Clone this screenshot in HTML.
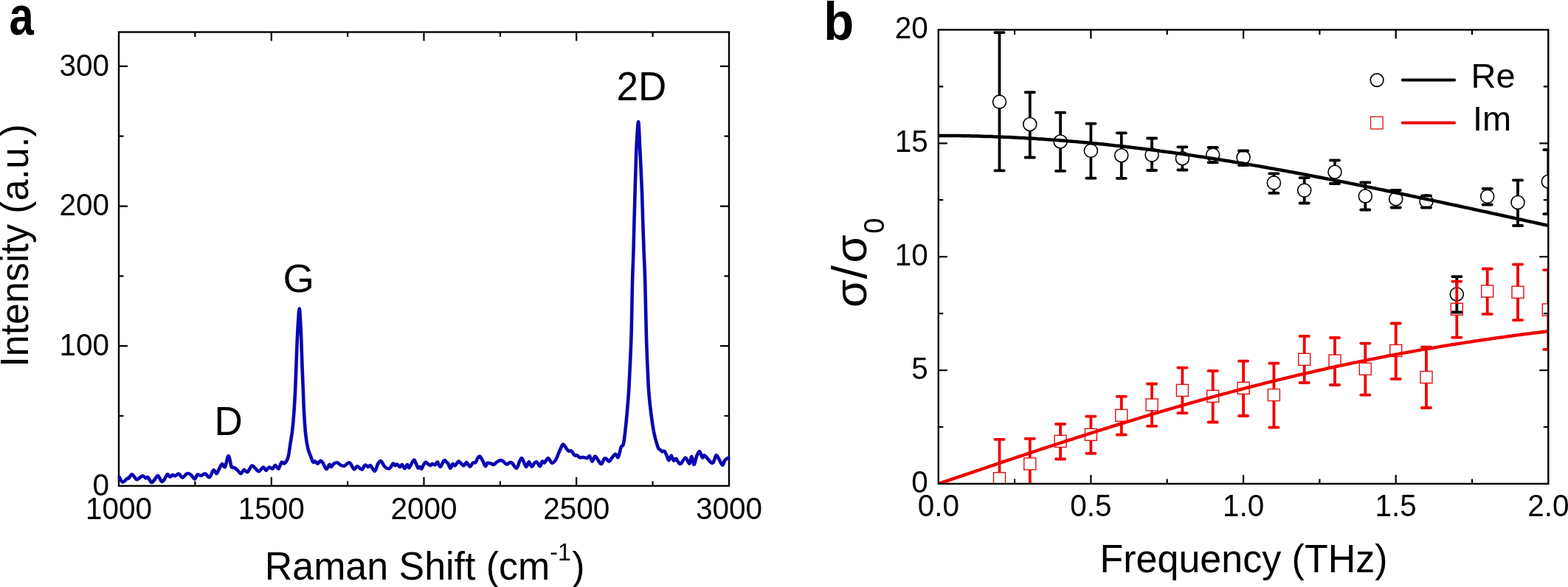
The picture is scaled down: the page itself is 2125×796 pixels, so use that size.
<!DOCTYPE html><html><head><meta charset="utf-8"><style>html,body{margin:0;padding:0;background:#fff;}svg{display:block;}text{font-family:"Liberation Sans",Arial,sans-serif;}</style></head><body>
<svg width="2125" height="796" viewBox="0 0 2125 796">
<rect width="2125" height="796" fill="#fff"/>
<rect x="161.0" y="43.5" width="827.0" height="615.4" fill="none" stroke="#000" stroke-width="2.4"/>
<path d="M264.4,658.9v-6.5M264.4,43.5v6.5M367.8,658.9v-12.0M367.8,43.5v12.0M471.1,658.9v-6.5M471.1,43.5v6.5M574.5,658.9v-12.0M574.5,43.5v12.0M677.9,658.9v-6.5M677.9,43.5v6.5M781.2,658.9v-12.0M781.2,43.5v12.0M884.6,658.9v-6.5M884.6,43.5v6.5M161.0,564.0h6.5M988.0,564.0h-6.5M161.0,469.2h12.0M988.0,469.2h-12.0M161.0,374.4h6.5M988.0,374.4h-6.5M161.0,279.6h12.0M988.0,279.6h-12.0M161.0,184.7h6.5M988.0,184.7h-6.5M161.0,89.9h12.0M988.0,89.9h-12.0" stroke="#000" stroke-width="2.2" fill="none"/>
<path d="M161.8,647.2 C162.5,648.3 164.4,653.5 166.2,653.8 C167.9,654.1 170.9,649.8 172.3,648.9 C173.7,648.0 173.4,649.5 174.5,648.5 C175.6,647.5 177.2,643.0 178.9,643.2 C180.6,643.4 183.1,648.8 184.6,649.8 C186.1,650.8 186.6,649.7 188.1,648.9 C189.6,648.1 191.8,645.3 193.4,645.2 C195.0,645.1 196.6,648.2 197.8,648.5 C199.0,648.8 199.2,646.2 200.5,647.2 C201.8,648.2 203.8,653.6 205.3,654.2 C206.8,654.8 207.8,652.2 209.3,650.7 C210.8,649.2 212.5,644.6 214.1,645.0 C215.7,645.4 217.5,651.9 218.9,652.9 C220.3,653.9 221.1,652.3 222.4,650.7 C223.7,649.1 225.5,643.9 226.8,643.2 C228.1,642.5 229.2,646.6 230.4,646.7 C231.6,646.9 232.7,644.3 233.9,644.1 C235.1,643.9 236.0,645.6 237.4,645.4 C238.8,645.1 240.5,642.2 242.2,642.6 C243.9,643.0 245.7,647.7 247.5,647.6 C249.3,647.5 251.4,643.0 253.2,642.3 C255.0,641.6 256.7,642.4 258.5,643.6 C260.3,644.8 262.3,649.4 263.8,649.4 C265.3,649.4 266.2,644.3 267.7,643.6 C269.2,642.9 270.9,645.2 272.6,645.0 C274.3,644.8 276.0,641.9 277.9,642.3 C279.8,642.7 282.1,648.0 284.0,647.2 C285.9,646.4 287.7,638.3 289.3,637.5 C290.9,636.7 292.2,642.6 293.5,642.3 C294.8,642.0 295.8,637.9 297.0,635.7 C298.2,633.5 299.7,629.5 301.0,629.1 C302.3,628.7 303.7,634.8 305.0,633.1 C306.3,631.4 307.9,620.9 308.9,619.0 C309.9,617.1 310.3,619.4 311.1,621.7 C311.9,624.1 312.7,631.1 313.7,633.1 C314.7,635.1 315.9,633.2 317.3,634.0 C318.7,634.8 320.6,636.5 322.1,637.9 C323.6,639.3 325.1,642.4 326.5,642.3 C327.9,642.2 329.0,637.5 330.5,637.1 C332.0,636.7 333.6,641.0 335.3,640.1 C337.1,639.2 339.3,632.8 341.0,631.8 C342.7,630.8 343.8,633.1 345.4,634.4 C347.0,635.6 348.8,639.4 350.7,639.3 C352.6,639.1 355.2,633.7 356.8,633.5 C358.4,633.3 359.1,637.9 360.4,637.9 C361.7,637.9 363.3,633.9 364.8,633.5 C366.3,633.1 367.8,636.1 369.2,635.7 C370.6,635.3 371.7,630.9 373.1,630.9 C374.5,630.9 376.1,636.4 377.5,635.7 C378.9,635.0 380.2,628.1 381.5,626.9 C382.8,625.7 383.9,629.4 385.4,628.3 C386.9,627.2 389.0,624.8 390.3,620.5 C391.6,616.2 392.3,608.9 393.3,602.6 C394.3,596.4 395.5,590.0 396.3,583.0 C397.1,576.0 397.7,569.1 398.3,560.3 C398.9,551.5 399.6,540.8 400.1,530.2 C400.6,519.7 400.9,508.6 401.4,497.0 C401.8,485.4 402.3,470.6 402.8,460.3 C403.3,450.0 403.7,442.0 404.2,435.0 C404.7,428.0 405.2,418.5 405.7,418.5 C406.2,418.5 406.7,428.0 407.1,435.0 C407.5,442.0 407.9,450.0 408.3,460.3 C408.7,470.6 409.1,485.4 409.5,497.0 C409.9,508.6 410.5,519.7 410.9,530.2 C411.3,540.8 411.5,550.2 412.1,560.3 C412.7,570.3 413.5,582.5 414.4,590.5 C415.3,598.5 416.3,603.9 417.4,608.6 C418.5,613.4 420.1,616.0 421.2,619.0 C422.3,622.0 423.1,625.4 424.1,626.5 C425.1,627.6 426.1,625.2 427.2,625.6 C428.3,626.0 429.4,628.9 430.6,628.7 C431.8,628.6 433.3,624.9 434.5,624.7 C435.7,624.6 436.3,625.9 437.6,627.8 C438.9,629.7 440.9,635.8 442.4,636.2 C443.9,636.6 445.3,630.5 446.4,630.0 C447.5,629.5 448.0,633.3 449.0,633.1 C450.0,632.9 451.1,629.7 452.5,628.7 C453.9,627.8 455.9,627.1 457.4,627.4 C458.9,627.7 459.8,629.8 461.3,630.5 C462.8,631.2 464.6,632.3 466.6,631.8 C468.7,631.3 471.4,626.7 473.6,627.4 C475.8,628.1 478.0,635.4 479.8,636.2 C481.6,637.0 482.4,632.1 484.2,632.2 C486.0,632.3 488.6,636.9 490.4,636.6 C492.2,636.3 493.4,631.1 494.8,630.5 C496.2,629.9 497.5,633.0 498.7,633.1 C499.9,633.2 500.6,630.3 502.2,631.3 C503.8,632.2 506.3,639.2 508.0,638.8 C509.7,638.4 510.9,631.0 512.3,628.7 C513.7,626.4 514.8,624.5 516.3,625.2 C517.8,625.9 519.7,631.4 521.6,633.1 C523.5,634.8 525.9,636.0 527.7,635.3 C529.5,634.6 531.4,629.4 532.6,628.7 C533.9,628.0 534.2,631.1 535.2,631.3 C536.2,631.4 537.2,629.3 538.3,629.6 C539.4,629.9 540.7,633.0 541.8,633.1 C542.9,633.2 543.8,629.6 544.9,630.0 C546.0,630.4 547.2,635.3 548.4,635.3 C549.6,635.3 550.9,630.2 551.9,630.0 C552.9,629.8 553.1,635.0 554.6,634.0 C556.1,633.0 559.2,624.8 560.7,623.9 C562.2,623.0 562.8,627.0 563.8,628.7 C564.8,630.5 565.6,633.7 566.4,634.4 C567.2,635.1 567.8,632.9 568.6,633.1 C569.4,633.3 570.5,636.0 571.3,635.7 C572.1,635.4 572.6,632.8 573.5,631.3 C574.4,629.8 575.4,627.3 576.5,626.9 C577.6,626.5 579.0,628.4 580.1,629.1 C581.2,629.8 582.2,631.3 583.1,631.3 C584.0,631.3 584.7,629.2 585.8,629.1 C586.9,629.0 588.5,630.9 589.7,630.5 C590.9,630.1 591.6,626.1 592.8,626.5 C594.0,626.9 595.3,633.4 596.8,633.1 C598.3,632.8 600.3,625.9 601.6,624.7 C602.9,623.5 603.7,625.3 604.7,626.1 C605.7,626.9 606.8,628.1 607.8,629.6 C608.8,631.1 609.4,635.0 610.4,634.9 C611.4,634.8 612.5,629.7 613.5,629.1 C614.5,628.5 615.3,631.9 616.6,631.3 C617.9,630.7 619.9,626.0 621.4,625.6 C622.9,625.2 624.1,628.2 625.4,629.1 C626.6,630.0 627.7,631.7 628.9,631.3 C630.1,630.9 631.1,626.7 632.4,626.9 C633.7,627.1 635.4,632.6 636.8,632.7 C638.2,632.9 639.5,628.8 640.8,627.8 C642.1,626.8 643.6,628.0 644.7,626.9 C645.8,625.8 646.3,622.5 647.3,621.2 C648.2,619.9 649.2,618.3 650.4,619.0 C651.6,619.7 653.1,623.0 654.4,625.2 C655.6,627.4 656.9,631.8 657.9,632.2 C658.9,632.6 659.2,628.4 660.5,627.8 C661.8,627.2 664.3,628.3 665.8,628.7 C667.3,629.1 668.1,630.3 669.3,630.0 C670.5,629.7 671.5,627.9 672.9,626.9 C674.3,625.9 676.2,624.6 677.7,624.3 C679.2,624.0 680.1,624.3 681.6,625.2 C683.1,626.1 685.0,629.2 686.5,629.6 C688.0,630.0 689.1,627.7 690.4,627.4 C691.6,627.1 692.4,626.6 694.0,627.9 C695.6,629.2 698.4,635.4 700.1,635.0 C701.8,634.6 702.9,627.9 704.1,625.7 C705.4,623.5 706.1,620.6 707.6,621.8 C709.1,623.0 711.4,632.1 712.9,632.8 C714.4,633.5 715.5,626.2 716.8,626.2 C718.1,626.2 719.5,632.6 720.8,632.8 C722.1,633.0 723.5,628.5 724.7,627.5 C725.9,626.5 726.6,625.8 727.8,626.6 C729.0,627.4 730.6,632.4 731.8,632.3 C733.0,632.1 733.9,626.5 734.9,625.7 C735.9,624.9 736.6,628.2 737.9,627.5 C739.2,626.8 741.1,621.2 742.8,621.3 C744.5,621.4 746.3,627.4 748.0,627.9 C749.7,628.4 751.4,626.1 752.9,624.0 C754.4,621.9 755.3,618.7 756.8,615.2 C758.3,611.8 760.8,605.1 762.1,603.3 C763.4,601.5 763.5,602.9 764.8,604.2 C766.1,605.5 768.4,610.0 770.0,611.2 C771.6,612.5 772.9,610.7 774.4,611.7 C775.9,612.7 777.5,616.5 778.8,617.4 C780.0,618.3 780.7,616.9 781.9,617.4 C783.1,617.9 784.5,620.1 785.9,620.5 C787.3,620.9 788.7,619.9 790.3,620.0 C791.9,620.1 794.0,621.6 795.5,621.3 C797.0,621.0 797.9,617.6 799.1,618.3 C800.3,619.0 801.4,625.6 802.6,625.7 C803.8,625.8 805.2,619.0 806.5,618.7 C807.8,618.4 809.1,622.2 810.5,624.0 C811.9,625.8 813.5,629.6 814.9,629.3 C816.3,629.0 817.6,623.4 818.8,622.2 C820.0,621.0 820.8,621.6 821.9,622.2 C823.0,622.8 824.0,625.9 825.2,625.8 C826.4,625.6 827.5,623.0 829.0,621.3 C830.5,619.6 832.6,616.0 834.0,615.8 C835.4,615.6 836.6,620.9 837.6,620.3 C838.6,619.7 839.4,614.8 840.1,612.3 C840.8,609.8 841.2,607.1 842.0,605.5 C842.8,603.9 843.9,605.6 844.8,602.5 C845.6,599.4 846.3,593.8 847.1,586.8 C847.9,579.8 848.9,570.1 849.7,560.7 C850.5,551.3 851.4,542.2 852.1,530.5 C852.8,518.8 853.5,503.6 854.1,490.2 C854.7,476.8 855.2,468.3 855.7,450.0 C856.2,431.7 856.6,398.7 857.1,380.4 C857.6,362.1 858.1,353.6 858.5,340.2 C858.9,326.8 859.1,313.4 859.5,300.0 C859.9,286.6 860.2,272.6 860.6,260.0 C861.0,247.3 861.4,234.7 861.7,224.1 C862.1,213.5 862.1,206.3 862.7,196.5 C863.3,186.7 864.4,165.0 865.1,165.0 C865.8,165.0 866.5,186.7 867.0,196.5 C867.5,206.3 867.9,213.5 868.4,224.1 C868.9,234.7 869.5,247.3 870.0,260.0 C870.5,272.6 870.8,286.6 871.2,300.0 C871.6,313.4 872.1,326.8 872.6,340.2 C873.1,353.6 873.7,362.1 874.2,380.4 C874.7,398.7 875.3,431.7 875.8,450.0 C876.3,468.3 876.6,476.8 877.2,490.2 C877.8,503.6 878.4,518.8 879.2,530.5 C880.1,542.2 881.1,551.3 882.3,560.7 C883.5,570.1 885.0,580.1 886.3,586.8 C887.6,593.5 888.9,597.3 889.9,600.9 C890.9,604.5 891.5,606.7 892.3,608.2 C893.1,609.7 893.8,609.1 894.6,609.8 C895.5,610.5 896.4,612.0 897.4,612.3 C898.4,612.6 899.4,611.0 900.4,611.8 C901.4,612.6 902.4,615.2 903.4,617.3 C904.4,619.4 905.4,624.2 906.4,624.3 C907.4,624.4 908.5,617.8 909.6,617.8 C910.7,617.8 911.9,623.8 913.0,624.5 C914.1,625.2 915.1,621.7 916.1,622.0 C917.1,622.3 917.9,625.1 919.0,626.3 C920.1,627.5 920.8,629.9 922.5,629.0 C924.2,628.1 927.0,620.8 929.0,620.8 C931.0,620.8 932.9,629.0 934.3,628.7 C935.7,628.4 936.4,618.8 937.4,619.0 C938.4,619.2 939.4,630.0 940.5,630.0 C941.6,630.0 942.8,622.0 944.0,619.0 C945.2,616.0 946.6,611.8 947.9,612.0 C949.2,612.2 950.7,619.3 951.9,620.3 C953.1,621.2 953.1,616.6 955.0,617.7 C956.9,618.8 961.3,625.4 963.3,626.9 C965.3,628.4 965.5,628.5 966.8,626.9 C968.0,625.3 969.4,617.7 970.8,617.3 C972.2,616.9 973.8,622.0 975.2,624.3 C976.6,626.6 978.0,630.9 979.2,630.9 C980.4,630.9 980.9,626.0 982.2,624.3 C983.5,622.6 986.3,621.4 987.1,620.8" stroke="#0a06b0" stroke-width="4.6" fill="none" stroke-linejoin="round" stroke-linecap="round"/>
<text transform="translate(161.0,703.5) scale(1.000,1.045)" font-size="40.5" text-anchor="middle">1000</text>
<text transform="translate(367.8,703.5) scale(1.000,1.045)" font-size="40.5" text-anchor="middle">1500</text>
<text transform="translate(574.5,703.5) scale(1.000,1.045)" font-size="40.5" text-anchor="middle">2000</text>
<text transform="translate(781.2,703.5) scale(1.000,1.045)" font-size="40.5" text-anchor="middle">2500</text>
<text transform="translate(988.0,703.5) scale(1.000,1.045)" font-size="40.5" text-anchor="middle">3000</text>
<text transform="translate(148.0,671.6) scale(1.000,1.045)" font-size="40.5" text-anchor="end">0</text>
<text transform="translate(148.0,482.0) scale(1.000,1.045)" font-size="40.5" text-anchor="end">100</text>
<text transform="translate(148.0,292.4) scale(1.000,1.045)" font-size="40.5" text-anchor="end">200</text>
<text transform="translate(148.0,102.7) scale(1.000,1.045)" font-size="40.5" text-anchor="end">300</text>
<text transform="translate(358.8,785.5) scale(1.000,1.045)" font-size="51.9">Raman Shift (cm<tspan dy="-24.2" font-size="32">-1</tspan><tspan dy="24.2" dx="1.5">)</tspan></text>
<text transform="translate(37.7,333) rotate(-90) scale(1.0,1.04)" font-size="52" text-anchor="middle">Intensity (a.u.)</text>
<text transform="translate(290.5,590.0) scale(1.000,1.030)" font-size="53.0">D</text>
<text transform="translate(383.5,395.5) scale(1.030,1.010)" font-size="53.0">G</text>
<text transform="translate(835.5,136.0) scale(1.000,1.040)" font-size="53.0">2D</text>
<text transform="translate(12.5,47.0) scale(0.820,1.020)" font-size="73.0" font-weight="bold">a</text>
<defs><clipPath id="cb"><rect x="1271.8" y="40.4" width="826.5" height="615.6"/></clipPath></defs>
<path d="M1375.1,656.0v-6.5M1375.1,40.4v6.5M1478.4,656.0v-12.0M1478.4,40.4v12.0M1581.7,656.0v-6.5M1581.7,40.4v6.5M1685.1,656.0v-12.0M1685.1,40.4v12.0M1788.4,656.0v-6.5M1788.4,40.4v6.5M1891.7,656.0v-12.0M1891.7,40.4v12.0M1995.0,656.0v-6.5M1995.0,40.4v6.5M1271.8,579.0h6.5M2098.3,579.0h-6.5M1271.8,502.1h12.0M2098.3,502.1h-12.0M1271.8,425.1h6.5M2098.3,425.1h-6.5M1271.8,348.2h12.0M2098.3,348.2h-12.0M1271.8,271.2h6.5M2098.3,271.2h-6.5M1271.8,194.3h12.0M2098.3,194.3h-12.0M1271.8,117.4h6.5M2098.3,117.4h-6.5" stroke="#000" stroke-width="2.2" fill="none"/>
<g clip-path="url(#cb)">
<path d="M1354.5,44.1V129.1M1354.5,147.1V231.4M1395.8,125.1V159.5M1395.8,177.5V213.5M1437.1,152.7V183.0M1437.1,201.0V231.8M1478.4,167.6V195.4M1478.4,213.4V241.7M1519.8,180.3V201.8M1519.8,219.8V241.8M1561.1,187.5V201.1M1561.1,219.1V231.0M1602.4,199.3V205.7M1602.4,223.7V230.5M1643.7,200.0V201.1M1643.7,219.1V220.3M1685.1,222.5V224.2M1726.4,235.4V238.9M1726.4,256.9V261.9M1767.7,241.1V249.1M1767.7,267.1V275.5M1809.0,217.3V224.2M1809.0,242.2V249.0M1850.3,247.4V257.0M1850.3,275.0V284.5M1891.7,258.0V260.8M1891.7,278.8V281.5M1974.3,375.1V390.0M1974.3,408.0V423.5M2015.7,255.8V257.4M2015.7,275.4V277.5M2057.0,244.3V265.5M2057.0,283.5V306.0M2098.3,203.1V237.3M2098.3,255.3V290.2" stroke="#000" stroke-width="3.8" fill="none"/><path d="M1348.4,44.1h12.2M1348.4,231.4h12.2M1389.7,125.1h12.2M1389.7,213.5h12.2M1431.0,152.7h12.2M1431.0,231.8h12.2M1472.3,167.6h12.2M1472.3,241.7h12.2M1513.7,180.3h12.2M1513.7,241.8h12.2M1555.0,187.5h12.2M1555.0,231.0h12.2M1596.3,199.3h12.2M1596.3,230.5h12.2M1637.6,200.0h12.2M1637.6,220.3h12.2M1679.0,204.5h12.2M1679.0,224.2h12.2M1720.3,235.4h12.2M1720.3,261.9h12.2M1761.6,241.1h12.2M1761.6,275.5h12.2M1802.9,217.3h12.2M1802.9,249.0h12.2M1844.2,247.4h12.2M1844.2,284.5h12.2M1885.6,258.0h12.2M1885.6,281.5h12.2M1926.9,265.4h12.2M1926.9,281.5h12.2M1968.2,375.1h12.2M1968.2,423.5h12.2M2009.6,255.8h12.2M2009.6,277.5h12.2M2050.9,244.3h12.2M2050.9,306.0h12.2M2092.2,203.1h12.2M2092.2,290.2h12.2" stroke="#000" stroke-width="3.8" stroke-linecap="round" fill="none"/>
<circle cx="1354.5" cy="138.1" r="9.0" fill="none" stroke="#000" stroke-width="1.6"/><circle cx="1395.8" cy="168.5" r="9.0" fill="none" stroke="#000" stroke-width="1.6"/><circle cx="1437.1" cy="192.0" r="9.0" fill="none" stroke="#000" stroke-width="1.6"/><circle cx="1478.4" cy="204.4" r="9.0" fill="none" stroke="#000" stroke-width="1.6"/><circle cx="1519.8" cy="210.8" r="9.0" fill="none" stroke="#000" stroke-width="1.6"/><circle cx="1561.1" cy="210.1" r="9.0" fill="none" stroke="#000" stroke-width="1.6"/><circle cx="1602.4" cy="214.7" r="9.0" fill="none" stroke="#000" stroke-width="1.6"/><circle cx="1643.7" cy="210.1" r="9.0" fill="none" stroke="#000" stroke-width="1.6"/><circle cx="1685.1" cy="213.5" r="9.0" fill="none" stroke="#000" stroke-width="1.6"/><circle cx="1726.4" cy="247.9" r="9.0" fill="none" stroke="#000" stroke-width="1.6"/><circle cx="1767.7" cy="258.1" r="9.0" fill="none" stroke="#000" stroke-width="1.6"/><circle cx="1809.0" cy="233.2" r="9.0" fill="none" stroke="#000" stroke-width="1.6"/><circle cx="1850.3" cy="266.0" r="9.0" fill="none" stroke="#000" stroke-width="1.6"/><circle cx="1891.7" cy="269.8" r="9.0" fill="none" stroke="#000" stroke-width="1.6"/><circle cx="1933.0" cy="272.9" r="9.0" fill="none" stroke="#000" stroke-width="1.6"/><circle cx="1974.3" cy="399.0" r="9.0" fill="none" stroke="#000" stroke-width="1.6"/><circle cx="2015.7" cy="266.4" r="9.0" fill="none" stroke="#000" stroke-width="1.6"/><circle cx="2057.0" cy="274.5" r="9.0" fill="none" stroke="#000" stroke-width="1.6"/><circle cx="2098.3" cy="246.3" r="9.0" fill="none" stroke="#000" stroke-width="1.6"/>
<path d="M1271.8,183.9 L1275.9,183.9 L1280.1,183.9 L1284.2,184.0 L1288.3,184.0 L1292.5,184.0 L1296.6,184.1 L1300.7,184.1 L1304.9,184.2 L1309.0,184.3 L1313.1,184.3 L1317.3,184.4 L1321.4,184.5 L1325.5,184.6 L1329.7,184.7 L1333.8,184.9 L1337.9,185.0 L1342.1,185.1 L1346.2,185.3 L1350.3,185.4 L1354.5,185.6 L1358.6,185.7 L1362.7,185.9 L1366.8,186.1 L1371.0,186.3 L1375.1,186.5 L1379.2,186.7 L1383.4,186.9 L1387.5,187.1 L1391.6,187.4 L1395.8,187.6 L1399.9,187.8 L1404.0,188.1 L1408.2,188.4 L1412.3,188.6 L1416.4,188.9 L1420.6,189.2 L1424.7,189.5 L1428.8,189.8 L1433.0,190.1 L1437.1,190.4 L1441.2,190.7 L1445.4,191.1 L1449.5,191.4 L1453.6,191.8 L1457.8,192.1 L1461.9,192.5 L1466.0,192.8 L1470.2,193.2 L1474.3,193.6 L1478.4,194.0 L1482.6,194.4 L1486.7,194.8 L1490.8,195.2 L1495.0,195.6 L1499.1,196.0 L1503.2,196.5 L1507.4,196.9 L1511.5,197.4 L1515.6,197.8 L1519.8,198.3 L1523.9,198.7 L1528.0,199.2 L1532.1,199.7 L1536.3,200.2 L1540.4,200.7 L1544.5,201.2 L1548.7,201.7 L1552.8,202.2 L1556.9,202.7 L1561.1,203.2 L1565.2,203.8 L1569.3,204.3 L1573.5,204.9 L1577.6,205.4 L1581.7,206.0 L1585.9,206.5 L1590.0,207.1 L1594.1,207.7 L1598.3,208.3 L1602.4,208.8 L1606.5,209.4 L1610.7,210.0 L1614.8,210.6 L1618.9,211.3 L1623.1,211.9 L1627.2,212.5 L1631.3,213.1 L1635.5,213.8 L1639.6,214.4 L1643.7,215.0 L1647.9,215.7 L1652.0,216.3 L1656.1,217.0 L1660.3,217.7 L1664.4,218.3 L1668.5,219.0 L1672.7,219.7 L1676.8,220.4 L1680.9,221.1 L1685.1,221.7 L1689.2,222.4 L1693.3,223.1 L1697.4,223.9 L1701.6,224.6 L1705.7,225.3 L1709.8,226.0 L1714.0,226.7 L1718.1,227.5 L1722.2,228.2 L1726.4,228.9 L1730.5,229.7 L1734.6,230.4 L1738.8,231.2 L1742.9,231.9 L1747.0,232.7 L1751.2,233.4 L1755.3,234.2 L1759.4,235.0 L1763.6,235.8 L1767.7,236.5 L1771.8,237.3 L1776.0,238.1 L1780.1,238.9 L1784.2,239.7 L1788.4,240.5 L1792.5,241.3 L1796.6,242.1 L1800.8,242.9 L1804.9,243.7 L1809.0,244.5 L1813.2,245.3 L1817.3,246.1 L1821.4,246.9 L1825.6,247.8 L1829.7,248.6 L1833.8,249.4 L1838.0,250.2 L1842.1,251.1 L1846.2,251.9 L1850.3,252.8 L1854.5,253.6 L1858.6,254.4 L1862.7,255.3 L1866.9,256.1 L1871.0,257.0 L1875.1,257.8 L1879.3,258.7 L1883.4,259.5 L1887.5,260.4 L1891.7,261.3 L1895.8,262.1 L1899.9,263.0 L1904.1,263.9 L1908.2,264.7 L1912.3,265.6 L1916.5,266.5 L1920.6,267.4 L1924.7,268.2 L1928.9,269.1 L1933.0,270.0 L1937.1,270.9 L1941.3,271.7 L1945.4,272.6 L1949.5,273.5 L1953.7,274.4 L1957.8,275.3 L1961.9,276.2 L1966.1,277.1 L1970.2,278.0 L1974.3,278.8 L1978.5,279.7 L1982.6,280.6 L1986.7,281.5 L1990.9,282.4 L1995.0,283.3 L1999.1,284.2 L2003.3,285.1 L2007.4,286.0 L2011.5,286.9 L2015.7,287.8 L2019.8,288.7 L2023.9,289.6 L2028.0,290.5 L2032.2,291.4 L2036.3,292.3 L2040.4,293.2 L2044.6,294.1 L2048.7,295.0 L2052.8,295.9 L2057.0,296.8 L2061.1,297.7 L2065.2,298.6 L2069.4,299.6 L2073.5,300.5 L2077.6,301.4 L2081.8,302.3 L2085.9,303.2 L2090.0,304.1 L2094.2,305.0 L2098.3,305.9" stroke="#000" stroke-width="4.5" fill="none"/>
<path d="M1354.5,595.8V640.8M1354.5,656.8V701.8M1395.8,594.9V621.0M1395.8,637.0V663.1M1437.1,575.0V590.4M1437.1,606.4V622.5M1478.4,564.7V581.3M1478.4,597.3V614.8M1519.8,537.7V555.3M1519.8,571.3V589.5M1561.1,520.5V540.9M1561.1,556.9V577.8M1602.4,498.6V521.3M1602.4,537.3V560.2M1643.7,502.9V529.3M1643.7,545.3V572.5M1685.1,489.6V518.3M1685.1,534.3V564.0M1726.4,492.7V527.6M1726.4,543.6V579.6M1767.7,455.9V479.3M1767.7,495.3V519.0M1809.0,458.0V481.1M1809.0,497.1V522.0M1850.3,465.6V492.3M1850.3,508.3V535.6M1891.7,438.5V467.5M1891.7,483.5V513.8M1933.0,470.7V503.5M1933.0,519.5V553.0M1974.3,381.6V411.3M1974.3,427.3V457.7M2015.7,364.5V386.9M2015.7,402.9V425.9M2057.0,358.6V388.2M2057.0,404.2V434.1M2098.3,366.1V412.0M2098.3,428.0V473.9" stroke="#f00000" stroke-width="3.8" fill="none"/><path d="M1348.4,595.8h12.2M1348.4,701.8h12.2M1389.7,594.9h12.2M1389.7,663.1h12.2M1431.0,575.0h12.2M1431.0,622.5h12.2M1472.3,564.7h12.2M1472.3,614.8h12.2M1513.7,537.7h12.2M1513.7,589.5h12.2M1555.0,520.5h12.2M1555.0,577.8h12.2M1596.3,498.6h12.2M1596.3,560.2h12.2M1637.6,502.9h12.2M1637.6,572.5h12.2M1679.0,489.6h12.2M1679.0,564.0h12.2M1720.3,492.7h12.2M1720.3,579.6h12.2M1761.6,455.9h12.2M1761.6,519.0h12.2M1802.9,458.0h12.2M1802.9,522.0h12.2M1844.2,465.6h12.2M1844.2,535.6h12.2M1885.6,438.5h12.2M1885.6,513.8h12.2M1926.9,470.7h12.2M1926.9,553.0h12.2M1968.2,381.6h12.2M1968.2,457.7h12.2M2009.6,364.5h12.2M2009.6,425.9h12.2M2050.9,358.6h12.2M2050.9,434.1h12.2M2092.2,366.1h12.2M2092.2,473.9h12.2" stroke="#f00000" stroke-width="3.8" stroke-linecap="round" fill="none"/>
<rect x="1346.5" y="640.8" width="16.0" height="16.0" fill="none" stroke="#e01010" stroke-width="1.4"/><rect x="1387.8" y="621.0" width="16.0" height="16.0" fill="none" stroke="#e01010" stroke-width="1.4"/><rect x="1429.1" y="590.4" width="16.0" height="16.0" fill="none" stroke="#e01010" stroke-width="1.4"/><rect x="1470.4" y="581.3" width="16.0" height="16.0" fill="none" stroke="#e01010" stroke-width="1.4"/><rect x="1511.8" y="555.3" width="16.0" height="16.0" fill="none" stroke="#e01010" stroke-width="1.4"/><rect x="1553.1" y="540.9" width="16.0" height="16.0" fill="none" stroke="#e01010" stroke-width="1.4"/><rect x="1594.4" y="521.3" width="16.0" height="16.0" fill="none" stroke="#e01010" stroke-width="1.4"/><rect x="1635.7" y="529.3" width="16.0" height="16.0" fill="none" stroke="#e01010" stroke-width="1.4"/><rect x="1677.1" y="518.3" width="16.0" height="16.0" fill="none" stroke="#e01010" stroke-width="1.4"/><rect x="1718.4" y="527.6" width="16.0" height="16.0" fill="none" stroke="#e01010" stroke-width="1.4"/><rect x="1759.7" y="479.3" width="16.0" height="16.0" fill="none" stroke="#e01010" stroke-width="1.4"/><rect x="1801.0" y="481.1" width="16.0" height="16.0" fill="none" stroke="#e01010" stroke-width="1.4"/><rect x="1842.3" y="492.3" width="16.0" height="16.0" fill="none" stroke="#e01010" stroke-width="1.4"/><rect x="1883.7" y="467.5" width="16.0" height="16.0" fill="none" stroke="#e01010" stroke-width="1.4"/><rect x="1925.0" y="503.5" width="16.0" height="16.0" fill="none" stroke="#e01010" stroke-width="1.4"/><rect x="1966.3" y="411.3" width="16.0" height="16.0" fill="none" stroke="#e01010" stroke-width="1.4"/><rect x="2007.7" y="386.9" width="16.0" height="16.0" fill="none" stroke="#e01010" stroke-width="1.4"/><rect x="2049.0" y="388.2" width="16.0" height="16.0" fill="none" stroke="#e01010" stroke-width="1.4"/><rect x="2090.3" y="412.0" width="16.0" height="16.0" fill="none" stroke="#e01010" stroke-width="1.4"/>
<path d="M1271.8,656.0 L1275.9,654.6 L1280.1,653.2 L1284.2,651.8 L1288.3,650.4 L1292.5,649.0 L1296.6,647.6 L1300.7,646.2 L1304.9,644.8 L1309.0,643.4 L1313.1,642.0 L1317.3,640.6 L1321.4,639.2 L1325.5,637.8 L1329.7,636.4 L1333.8,635.0 L1337.9,633.6 L1342.1,632.2 L1346.2,630.8 L1350.3,629.4 L1354.5,628.0 L1358.6,626.6 L1362.7,625.2 L1366.8,623.9 L1371.0,622.5 L1375.1,621.1 L1379.2,619.7 L1383.4,618.3 L1387.5,617.0 L1391.6,615.6 L1395.8,614.2 L1399.9,612.8 L1404.0,611.5 L1408.2,610.1 L1412.3,608.7 L1416.4,607.4 L1420.6,606.0 L1424.7,604.7 L1428.8,603.3 L1433.0,602.0 L1437.1,600.6 L1441.2,599.3 L1445.4,597.9 L1449.5,596.6 L1453.6,595.3 L1457.8,593.9 L1461.9,592.6 L1466.0,591.3 L1470.2,590.0 L1474.3,588.6 L1478.4,587.3 L1482.6,586.0 L1486.7,584.7 L1490.8,583.4 L1495.0,582.1 L1499.1,580.8 L1503.2,579.5 L1507.4,578.2 L1511.5,576.9 L1515.6,575.6 L1519.8,574.4 L1523.9,573.1 L1528.0,571.8 L1532.1,570.6 L1536.3,569.3 L1540.4,568.0 L1544.5,566.8 L1548.7,565.5 L1552.8,564.3 L1556.9,563.1 L1561.1,561.8 L1565.2,560.6 L1569.3,559.4 L1573.5,558.2 L1577.6,556.9 L1581.7,555.7 L1585.9,554.5 L1590.0,553.3 L1594.1,552.1 L1598.3,550.9 L1602.4,549.7 L1606.5,548.6 L1610.7,547.4 L1614.8,546.2 L1618.9,545.0 L1623.1,543.9 L1627.2,542.7 L1631.3,541.6 L1635.5,540.4 L1639.6,539.3 L1643.7,538.2 L1647.9,537.0 L1652.0,535.9 L1656.1,534.8 L1660.3,533.7 L1664.4,532.6 L1668.5,531.5 L1672.7,530.4 L1676.8,529.3 L1680.9,528.2 L1685.1,527.1 L1689.2,526.0 L1693.3,525.0 L1697.4,523.9 L1701.6,522.8 L1705.7,521.8 L1709.8,520.8 L1714.0,519.7 L1718.1,518.7 L1722.2,517.7 L1726.4,516.6 L1730.5,515.6 L1734.6,514.6 L1738.8,513.6 L1742.9,512.6 L1747.0,511.6 L1751.2,510.6 L1755.3,509.6 L1759.4,508.7 L1763.6,507.7 L1767.7,506.7 L1771.8,505.8 L1776.0,504.8 L1780.1,503.9 L1784.2,502.9 L1788.4,502.0 L1792.5,501.1 L1796.6,500.2 L1800.8,499.2 L1804.9,498.3 L1809.0,497.4 L1813.2,496.5 L1817.3,495.7 L1821.4,494.8 L1825.6,493.9 L1829.7,493.0 L1833.8,492.2 L1838.0,491.3 L1842.1,490.4 L1846.2,489.6 L1850.3,488.8 L1854.5,487.9 L1858.6,487.1 L1862.7,486.3 L1866.9,485.5 L1871.0,484.6 L1875.1,483.8 L1879.3,483.0 L1883.4,482.2 L1887.5,481.5 L1891.7,480.7 L1895.8,479.9 L1899.9,479.1 L1904.1,478.4 L1908.2,477.6 L1912.3,476.9 L1916.5,476.1 L1920.6,475.4 L1924.7,474.7 L1928.9,473.9 L1933.0,473.2 L1937.1,472.5 L1941.3,471.8 L1945.4,471.1 L1949.5,470.4 L1953.7,469.7 L1957.8,469.0 L1961.9,468.4 L1966.1,467.7 L1970.2,467.0 L1974.3,466.4 L1978.5,465.7 L1982.6,465.1 L1986.7,464.4 L1990.9,463.8 L1995.0,463.1 L1999.1,462.5 L2003.3,461.9 L2007.4,461.3 L2011.5,460.7 L2015.7,460.1 L2019.8,459.5 L2023.9,458.9 L2028.0,458.3 L2032.2,457.7 L2036.3,457.2 L2040.4,456.6 L2044.6,456.0 L2048.7,455.5 L2052.8,454.9 L2057.0,454.4 L2061.1,453.8 L2065.2,453.3 L2069.4,452.8 L2073.5,452.3 L2077.6,451.7 L2081.8,451.2 L2085.9,450.7 L2090.0,450.2 L2094.2,449.7 L2098.3,449.2" stroke="#f00000" stroke-width="4.4" fill="none"/>
</g>
<rect x="1271.8" y="40.4" width="826.5" height="615.6" fill="none" stroke="#000" stroke-width="2.4"/>
<circle cx="1866.1" cy="108.6" r="8.8" fill="none" stroke="#000" stroke-width="1.7"/>
<path d="M1900.8,108.4H1971.1" stroke="#000" stroke-width="4" stroke-linecap="round"/>
<rect x="1857.5" y="158.3" width="16.6" height="16.6" fill="none" stroke="#e01010" stroke-width="1.3"/>
<path d="M1900.8,166.4H1971.1" stroke="#f00000" stroke-width="4" stroke-linecap="round"/>
<text transform="translate(1993.5,118.8) scale(1.000,1.000)" font-size="47.0">Re</text>
<text transform="translate(1996.0,176.9) scale(1.000,0.990)" font-size="47.0">Im</text>
<text transform="translate(1271.8,700.0) scale(1.000,1.045)" font-size="40.5" text-anchor="middle">0.0</text>
<text transform="translate(1478.4,700.0) scale(1.000,1.045)" font-size="40.5" text-anchor="middle">0.5</text>
<text transform="translate(1685.1,700.0) scale(1.000,1.045)" font-size="40.5" text-anchor="middle">1.0</text>
<text transform="translate(1891.7,700.0) scale(1.000,1.045)" font-size="40.5" text-anchor="middle">1.5</text>
<text transform="translate(2098.3,700.0) scale(1.000,1.045)" font-size="40.5" text-anchor="middle">2.0</text>
<text transform="translate(1257.8,668.0) scale(1.000,1.045)" font-size="40.5" text-anchor="end">0</text>
<text transform="translate(1257.8,514.1) scale(1.000,1.045)" font-size="40.5" text-anchor="end">5</text>
<text transform="translate(1257.8,360.2) scale(1.000,1.045)" font-size="40.5" text-anchor="end">10</text>
<text transform="translate(1257.8,206.3) scale(1.000,1.045)" font-size="40.5" text-anchor="end">15</text>
<text transform="translate(1257.8,52.4) scale(1.000,1.045)" font-size="40.5" text-anchor="end">20</text>
<text transform="translate(1685.5,776.3) scale(1.000,1.040)" font-size="52.0" text-anchor="middle">Frequency (THz)</text>
<text transform="translate(1174,416.9) rotate(-90)" font-size="62">σ<tspan font-size="66" dx="0.4">/</tspan><tspan dx="3.4">σ</tspan><tspan font-size="38" dy="24" dx="1.6">0</tspan></text>
<text transform="translate(1116.3,54.0) scale(0.920,1.000)" font-size="73.0" font-weight="bold">b</text>
</svg></body></html>
